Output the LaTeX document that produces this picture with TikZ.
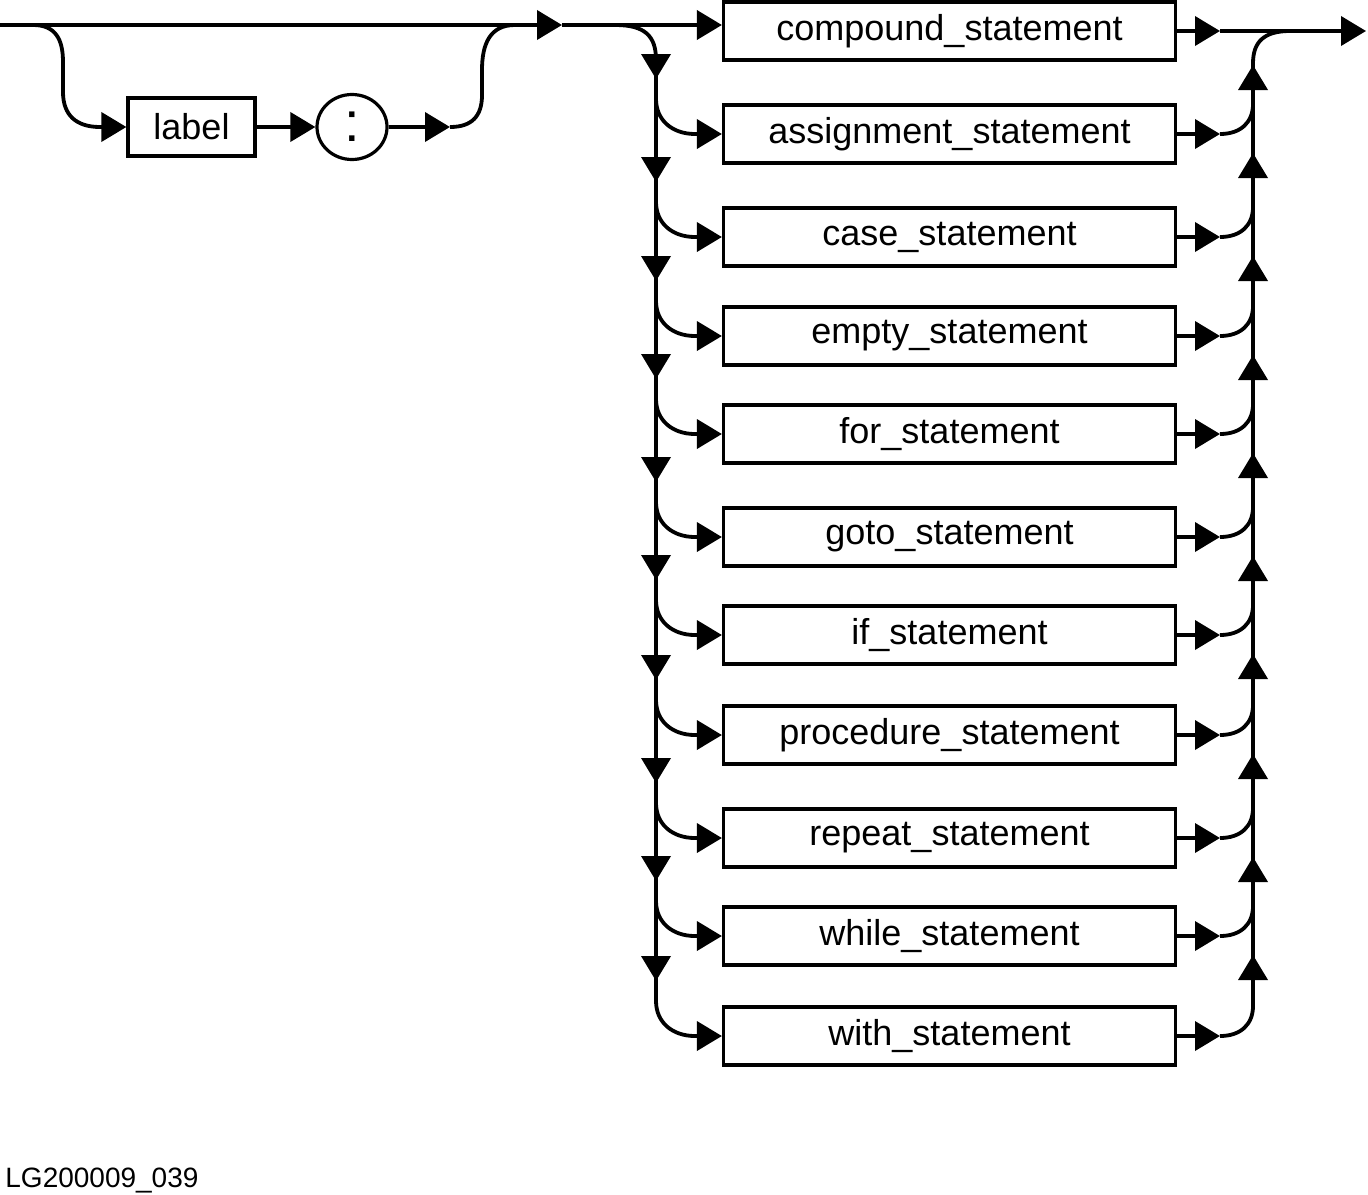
\documentclass[tikz,border=0pt]{standalone}
\usepackage{fontspec}
\setmainfont{Liberation Sans}
\usetikzlibrary{arrows.meta,shapes.geometric}
\begin{document}
\begin{tikzpicture}[x=0.5pt,y=-0.5pt,
  ln/.style={line width=1.9pt},
  arr/.style={ln,-{Triangle[length=12.5pt,width=14.5pt]}},
  box/.style={draw,line width=1.6pt,minimum width=226pt,minimum height=29pt,inner sep=0pt,font=\fontsize{18}{20}\selectfont},
  lblbox/.style={draw,line width=1.6pt,minimum width=63.5pt,minimum height=29pt,inner sep=0pt,font=\fontsize{18}{20}\selectfont},
  colon/.style={draw,ellipse,line width=1.6pt,minimum width=35pt,minimum height=32.5pt,inner sep=0pt,font=\fontsize{28}{28}\selectfont},
]
\useasboundingbox (0,0) rectangle (1368,1194);
% label branch
\node[lblbox] (lbl) at (191.5,127) {label};
\node[colon] (col) at (352,127) {:};
% statement boxes
\foreach \t/\c [count=\i] in {compound\_statement/31,assignment\_statement/134,case\_statement/237,empty\_statement/336,for\_statement/434,goto\_statement/537,if\_statement/635,procedure\_statement/735,repeat\_statement/838,while\_statement/936,with\_statement/1036}
  {\node[box] (b\i) at (949.5,\c) {\t};}
% junction coordinates
\coordinate (s) at (0,25);
\coordinate (m) at (562,25);
\coordinate (t1) at (1220,31);
\coordinate (e) at (1366,31);
% main line
\draw[arr] (s) -- (m);
\draw[arr] (m) -- (b1.west |- s);
% optional label bypass
\draw[arr] (33,25) .. controls (56,25) and (63,40) .. (63,62) -- (63,92)
  .. controls (63,115) and (76,127) .. (100,127) -- (lbl.west);
\draw[arr] (lbl.east) -- (col.west);
\draw[arr] (col.east) -- (450,127);
\draw[ln] (450,127) .. controls (472,127) and (482,116) .. (482,95) -- (482,70)
  .. controls (482,44) and (490,25) .. (515,25);
% left split
\draw[ln] (615,25) .. controls (645,25) and (656,36) .. (656,60) -- (656,1001);
\foreach \c [count=\i from 2] in {134,237,336,434,537,635,735,838,936,1036}
  {\draw[arr] (656,\c-35) .. controls (656,\c-14) and (672,\c) .. (695,\c) -- (b\i.west);
   \draw[arr] (656,\c-80) -- (656,\c-55);}
% right merge
\foreach \c [count=\i] in {31,134,237,336,434,537,635,735,838,936,1036}
  {\draw[arr] (b\i.east) -- (1220,\c);}
\foreach \c in {134,237,336,434,537,635,735,838,936,1036}
  {\draw[ln] (1220,\c) .. controls (1241,\c) and (1253,\c-12) .. (1253,\c-30);}
\foreach \c in {134,237,336,434,537,635,735,838,936}
  {\draw[arr] (1253,\c+44) -- (1253,\c+19);}
\draw[arr] (1253,90) -- (1253,65);
\draw[ln] (1253,1006) -- (1253,63) .. controls (1253,42) and (1264,31) .. (1290,31);
\draw[arr] (t1) -- (e);
% figure id
\node[anchor=base west,inner sep=0pt,font=\fontsize{14}{16}\selectfont] (ft) at (5,1187) {LG200009\_039};
\end{tikzpicture}
\end{document}
